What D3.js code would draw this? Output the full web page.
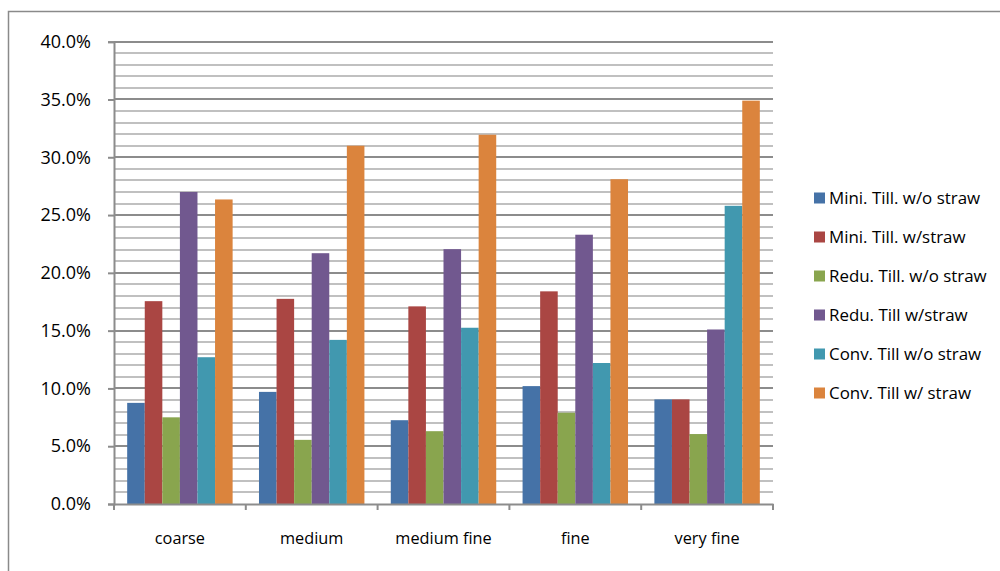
<!DOCTYPE html>
<html><head><meta charset="utf-8">
<script src="https://d3js.org/d3.v7.min.js"></script>
<style>body{margin:0;background:#fff}svg{display:block}</style>
</head><body><svg id="c" width="1000" height="571"></svg>
<script>
const categories = ["coarse","medium","medium fine","fine","very fine"];
const seriesNames = ["Mini. Till. w/o straw","Mini. Till. w/straw","Redu. Till. w/o straw","Redu. Till w/straw","Conv. Till w/o straw","Conv. Till w/ straw"];
const miniWo   = [8.75, 9.7, 7.25, 10.2, 9.05];
const miniW    = [17.55, 17.75, 17.1, 18.4, 9.05];
const reduWo   = [7.5, 5.55, 6.3, 7.9, 6.05];
const reduW    = [27.0, 21.7, 22.05, 23.3, 15.1];
const convWo   = [12.7, 14.2, 15.25, 12.2, 25.8];
const convW    = [26.35, 31.0, 31.95, 28.1, 34.9];
const seriesValues = [miniWo, miniW, reduWo, reduW, convWo, convW];
const colors = ["#4572A7","#AA4643","#89A54E","#71588F","#4198AF","#DB843D"];
const yTicks = [0,5,10,15,20,25,30,35,40];

(function(){
const svg = d3.select("#c");
const font = "'Open Sans', 'Liberation Sans', Arial, sans-serif";
svg.append("rect").attr("x",8.5).attr("y",11.5).attr("width",1100).attr("height",700)
  .attr("fill","none").attr("stroke","#8a8a8a").attr("stroke-width",1.5);

const pLeft=114, pRight=773, pTop=41.7, pBottom=504;
const x = d3.scaleBand().domain(categories).range([pLeft,pRight]).paddingInner(0).paddingOuter(0);
const y = d3.scaleLinear().domain([0,40]).range([pBottom,pTop]);

const minor = d3.range(1,41).filter(v=>v%5!==0);
svg.append("g").selectAll("line").data(minor).join("line")
  .attr("x1",pLeft).attr("x2",pRight).attr("y1",d=>Math.round(y(d))).attr("y2",d=>Math.round(y(d)))
  .attr("stroke","#c0c0c0").attr("stroke-width",2);
svg.append("g").selectAll("line").data(yTicks.filter(v=>v>0)).join("line")
  .attr("x1",pLeft).attr("x2",pRight).attr("y1",d=>Math.round(y(d))).attr("y2",d=>Math.round(y(d)))
  .attr("stroke","#8c8c8c").attr("stroke-width",2);

const bw = x.bandwidth()/7.5;
const gap = bw*0.75;
seriesValues.forEach((vals,si)=>{
  svg.append("g").selectAll("rect").data(vals).join("rect")
    .attr("x",(d,i)=>x(categories[i])+gap+si*bw)
    .attr("width",bw)
    .attr("y",d=>y(d)).attr("height",d=>pBottom-y(d))
    .attr("fill",colors[si]);
});

const yAxis = d3.axisLeft(y).tickValues(yTicks).tickFormat(d=>d.toFixed(1)+"%").tickSize(6).tickPadding(17);
const ya = svg.append("g").attr("transform",`translate(${pLeft},0)`).call(yAxis);
ya.select(".domain").attr("stroke","#8c8c8c").attr("stroke-width",2);
ya.selectAll(".tick line").attr("stroke","#8c8c8c").attr("stroke-width",2);
ya.selectAll("text").attr("font-family",font).attr("font-size",18).attr("fill","#000");

const xAxis = d3.axisBottom(x).tickSize(0).tickPadding(28);
const xa = svg.append("g").attr("transform",`translate(0,${pBottom})`).call(xAxis);
xa.select(".domain").attr("stroke","#8c8c8c").attr("stroke-width",2);
xa.selectAll("text").attr("font-family",font).attr("font-size",16.3).attr("fill","#000");
const bounds = categories.map(c=>x(c)).concat([pRight]);
svg.append("g").selectAll("line").data(bounds).join("line")
  .attr("x1",d=>d).attr("x2",d=>d).attr("y1",pBottom).attr("y2",pBottom+6)
  .attr("stroke","#8c8c8c").attr("stroke-width",2);

const lg = svg.append("g");
seriesNames.forEach((n,i)=>{
  const cy = 198 + i*39;
  lg.append("rect").attr("x",814).attr("y",cy-5.5).attr("width",11).attr("height",11).attr("fill",colors[i]);
  lg.append("text").attr("x",829).attr("y",cy).attr("dy","0.35em")
    .attr("font-family",font).attr("font-size",16.9).attr("fill","#000").text(n);
});
})();
</script></body></html>
